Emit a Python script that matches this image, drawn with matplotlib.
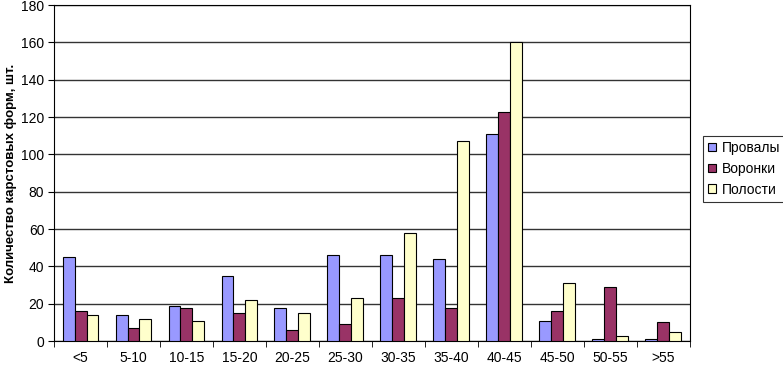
import numpy as np
import matplotlib.pyplot as plt

plt.rcParams['font.family'] = ['Liberation Sans', 'DejaVu Sans']

categories = ["<5", "5-10", "10-15", "15-20", "20-25", "25-30", "30-35",
              "35-40", "40-45", "45-50", "50-55", ">55"]
provaly = [45, 14, 19, 35, 18, 46, 46, 44, 111, 11, 1, 1]
voronki = [16, 7, 18, 15, 6, 9, 23, 18, 123, 16, 29, 10]
polosti = [14, 12, 11, 22, 15, 23, 58, 107, 160, 31, 3, 5]

fig = plt.figure(figsize=(7.83, 3.66), dpi=100)
ax = fig.add_axes([0.069, 0.068, 0.812, 0.918])

x = np.arange(len(categories))
w = 0.226
series = [("Провалы", provaly, "#9999FF"),
          ("Воронки", voronki, "#993366"),
          ("Полости", polosti, "#FFFFCC")]
for i, (name, vals, col) in enumerate(series):
    ax.bar(x + (i - 1) * w, vals, w, color=col, edgecolor="black",
           linewidth=0.8, label=name, zorder=3)

ax.set_xlim(-0.5, len(categories) - 0.5)
ax.set_ylim(0, 180)
ax.set_yticks(range(0, 181, 20))
ax.yaxis.grid(True, color="#333333", linewidth=1.0, zorder=0)

ax.set_xticks(x)
ax.set_xticklabels(categories, fontsize=10)
ax.set_xticks(np.arange(-0.5, len(categories), 1), minor=True)
ax.tick_params(axis="x", which="major", length=0, pad=7)
ax.tick_params(axis="x", which="minor", length=4, direction="out")
ax.tick_params(axis="y", labelsize=10, length=4, direction="out", pad=3)

for s in ax.spines.values():
    s.set_linewidth(0.8)

ax.set_ylabel("Количество карстовых форм, шт.", fontsize=9.5, fontweight="bold",
              labelpad=3)

leg = fig.legend(loc="upper left", bbox_to_anchor=(703 / 783, 1 - 136 / 366),
                 fontsize=10, frameon=True, fancybox=False, edgecolor="black",
                 handlelength=0.6, handleheight=0.6, handletextpad=0.4,
                 borderpad=0.35, labelspacing=0.5, borderaxespad=0)
leg.get_frame().set_linewidth(0.8)

fig.savefig("out.png", dpi=100)
